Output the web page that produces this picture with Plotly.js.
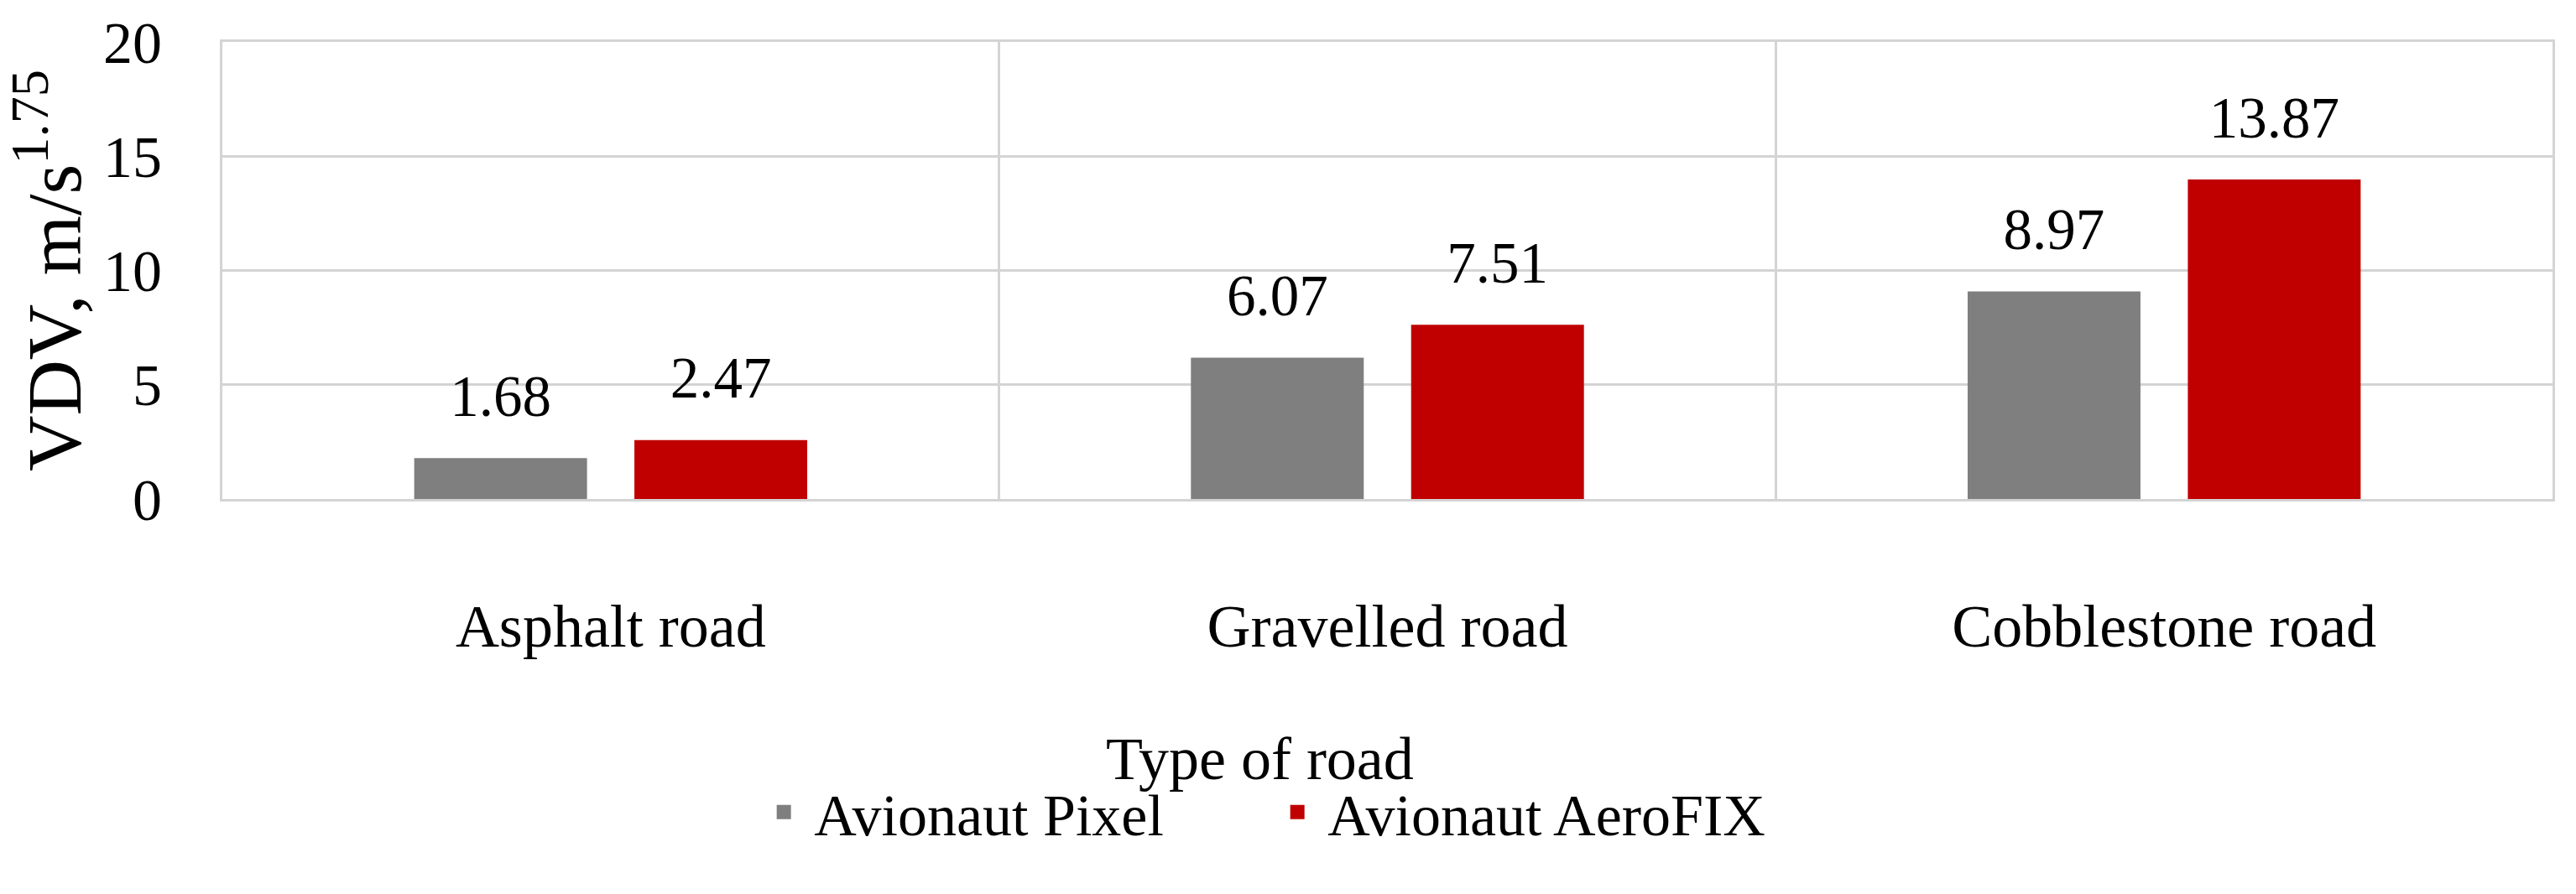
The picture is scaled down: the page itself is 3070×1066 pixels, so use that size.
<!DOCTYPE html>
<html>
<head>
<meta charset="utf-8">
<script src="https://cdn.plot.ly/plotly-3.0.1.min.js"></script>
<style>html,body{margin:0;padding:0;background:#fff;}#chart{width:3070px;height:1066px;}</style>
</head>
<body>
<div id="chart"></div>
<script>
const categories = ["Asphalt road", "Gravelled road", "Cobblestone road"];
const seriesNames = ["Avionaut Pixel", "Avionaut AeroFIX"];
const pixelValues = [1.68, 6.07, 8.97];
const aerofixValues = [2.47, 7.51, 13.87];
const yTickValues = [0, 5, 10, 15, 20];
const yTitle = "VDV, m/s<sup>1.75</sup>";
const xTitle = "Type of road";

const FONT = "'Liberation Serif', 'Times New Roman', serif";
const colors = ["#7f7f7f", "#c00000"];
const allSeries = [pixelValues, aerofixValues];

const traces = [];
allSeries.forEach((vals, i) => {
  traces.push({
    type: "bar",
    name: seriesNames[i],
    x: categories,
    y: vals,
    marker: {color: colors[i], line: {color: colors[i], width: 6}},
    hoverinfo: "x+y+name"
  });
});
allSeries.forEach((vals, i) => {
  traces.push({
    type: "scatter",
    mode: "markers+text",
    x: categories,
    y: vals,
    text: vals.map(v => v.toFixed(2)),
    textposition: "top center",
    textfont: {family: FONT, size: 69, color: "#000"},
    marker: {size: 56, opacity: 0, color: colors[i]},
    showlegend: false,
    hoverinfo: "skip",
    cliponaxis: false
  });
});

const layout = {
  width: 3070,
  height: 1066,
  margin: {l: 265, r: 28, t: 50, b: 471},
  paper_bgcolor: "#ffffff",
  plot_bgcolor: "#ffffff",
  font: {family: FONT, color: "#000"},
  barmode: "group",
  bargap: 0.433,
  bargroupgap: 0.238,
  scattermode: "group",
  scattergap: 0.433,
  showlegend: true,
  legend: {
    orientation: "h",
    x: 0.228, xanchor: "left",
    y: -0.685, yanchor: "middle",
    font: {family: FONT, size: 70, color: "#000"},
    itemwidth: 62,
    entrywidth: 535,
    entrywidthmode: "pixels",
    traceorder: "normal"
  },
  xaxis: {
    type: "category",
    tickson: "boundaries",
    showgrid: true,
    gridcolor: "#d4d4d4",
    gridwidth: 3,
    showline: true,
    linecolor: "#d4d4d4",
    linewidth: 3,
    mirror: true,
    ticks: "",
    ticklabelstandoff: 87,
    tickfont: {family: FONT, size: 72, color: "#000"},
    automargin: false
  },
  yaxis: {
    range: [0, 20],
    tickvals: yTickValues,
    ticktext: yTickValues.map(String),
    showgrid: true,
    gridcolor: "#d4d4d4",
    gridwidth: 3,
    zeroline: false,
    showline: true,
    linecolor: "#d4d4d4",
    linewidth: 3,
    mirror: true,
    ticks: "",
    ticklabelstandoff: 55,
    tickfont: {family: FONT, size: 70, color: "#000"},
    title: {text: yTitle, font: {family: FONT, size: 92, color: "#000"}, standoff: 10},
    automargin: false
  },
  annotations: [{
    text: xTitle,
    xref: "paper", yref: "paper",
    x: 0.4454, y: -0.568,
    xanchor: "center", yanchor: "middle",
    showarrow: false,
    font: {family: FONT, size: 72, color: "#000"}
  }]
};

Plotly.newPlot("chart", traces, layout, {displayModeBar: false, staticPlot: true});
</script>
</body>
</html>
